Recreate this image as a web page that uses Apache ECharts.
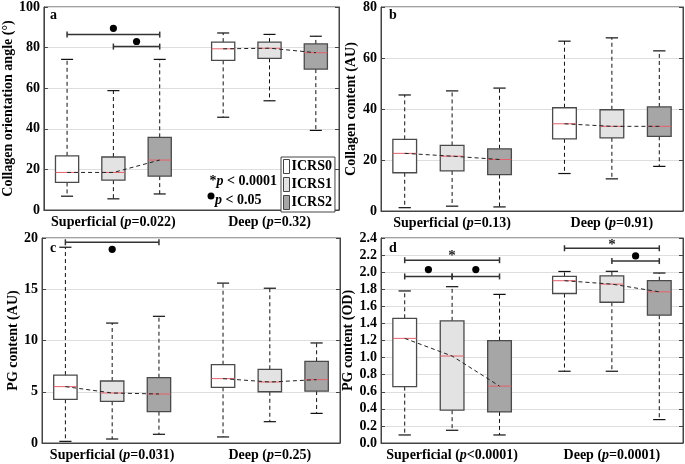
<!DOCTYPE html>
<html>
<head>
<meta charset="utf-8">
</head>
<body style="margin: 0">
<div id="main" style="width: 685px; height: 464px"></div>
<script src="https://cdn.jsdelivr.net/npm/echarts@6/dist/echarts.min.js"></script>
<script>
var groupNames = ['ICRS0', 'ICRS1', 'ICRS2'];
var zoneNames = ['Superficial', 'Deep'];

// each row: [min, q1, median, q3, max]; order Sup ICRS0..2 then Deep ICRS0..2
var angleBoxes = [
    [6.8, 13.6, 18.5, 26.7, 74.2],
    [5.5, 14.7, 18.5, 26.1, 58.8],
    [7.9, 16.7, 24.6, 35.8, 74.2],
    [45.7, 73.7, 79.4, 82.7, 87.2],
    [53.8, 74.7, 79.7, 82.7, 86.5],
    [39.2, 69.4, 77.5, 81.8, 85.6]
];
var collagenBoxes = [
    [1.3, 15.0, 22.6, 28.1, 45.5],
    [1.9, 15.7, 21.5, 25.7, 47.1],
    [1.6, 14.3, 20.2, 24.4, 48.2],
    [14.7, 28.3, 34.2, 40.5, 66.6],
    [12.6, 28.7, 33.2, 39.7, 67.9],
    [17.5, 29.3, 33.2, 40.8, 62.8]
];
var pgBoxes = [
    [0.16, 4.26, 5.5, 6.63, 19.1],
    [0.39, 4.07, 4.88, 6.05, 11.7],
    [0.85, 3.06, 4.78, 6.37, 12.36],
    [0.59, 5.43, 6.28, 7.64, 15.6],
    [2.08, 5.0, 5.95, 7.19, 15.1],
    [2.89, 5.07, 6.18, 7.97, 9.76]
];
var odBoxes = [
    [0.094, 0.66, 1.225, 1.46, 1.78],
    [0.149, 0.384, 1.018, 1.43, 1.83],
    [0.094, 0.364, 0.666, 1.198, 1.74],
    [0.84, 1.75, 1.90, 1.95, 2.008],
    [0.84, 1.648, 1.86, 1.957, 2.01],
    [0.274, 1.496, 1.77, 1.90, 1.99]
];

// significance brackets: [from box, to box, bar value, marker value, marker]
var angleSig = [[0, 2, 86.4, 89.5, 'dot'], [1, 2, 80.5, 83.0, 'dot']];
var collagenSig = [];
var pgSig = [[0, 2, 19.58, 18.9, 'dot']];
var odSig = [
    [0, 2, 2.14, 2.22, 'star'], [0, 1, 1.95, 2.03, 'dot'], [1, 2, 1.95, 2.03, 'dot'],
    [3, 5, 2.28, 2.35, 'star'], [4, 5, 2.13, 2.19, 'dot']
];

var angleP = ['=0.022', '=0.32'];
var collagenP = ['=0.13', '=0.91'];
var pgP = ['=0.031', '=0.25'];
var odP = ['<0.0001', '=0.0001'];

var serif = 'Liberation Serif';
var fills = ['#ffffff', '#e3e3e3', '#a6a6a6'];
var pos = [1, 2, 3, 4.37, 5.37, 6.37];
var zonePos = [2, 5.37];

var panels = [
    { tag: 'a', boxes: angleBoxes, sig: angleSig, p: angleP, name: 'Collagen orientation angle (°)',
      max: 100, step: 20, dec: 0, left: 42, top: 5, width: 297, height: 205, gap: 21 },
    { tag: 'b', boxes: collagenBoxes, sig: collagenSig, p: collagenP, name: 'Collagen content (AU)',
      max: 80, step: 20, dec: 0, left: 381, top: 5, width: 302, height: 206, gap: 23 },
    { tag: 'c', boxes: pgBoxes, sig: pgSig, p: pgP, name: 'PG content (AU)',
      max: 20, step: 5, dec: 0, left: 42, top: 238, width: 298, height: 205, gap: 17 },
    { tag: 'd', boxes: odBoxes, sig: odSig, p: odP, name: 'PG content (OD)',
      max: 2.4, step: 0.2, dec: 1, left: 381, top: 238, width: 302, height: 205, gap: 23 }
];

function renderBox(params, api) {
    var x = api.value(0);
    var pMin = api.coord([x, api.value(1)]);
    var pQ1 = api.coord([x, api.value(2)]);
    var pMed = api.coord([x, api.value(3)]);
    var pQ3 = api.coord([x, api.value(4)]);
    var pMax = api.coord([x, api.value(5)]);
    var bw = api.size([0.5, 0])[0];
    var cw = api.size([0.26, 0])[0];
    var cx = pMed[0];
    var dash = { stroke: '#111', lineWidth: 1, lineDash: [4, 3] };
    var solid = { stroke: '#111', lineWidth: 1.2 };
    return {
        type: 'group',
        children: [
            { type: 'line', shape: { x1: cx, y1: pQ3[1], x2: cx, y2: pMax[1] }, style: dash },
            { type: 'line', shape: { x1: cx, y1: pQ1[1], x2: cx, y2: pMin[1] }, style: dash },
            { type: 'line', shape: { x1: cx - cw / 2, y1: pMax[1], x2: cx + cw / 2, y2: pMax[1] }, style: solid },
            { type: 'line', shape: { x1: cx - cw / 2, y1: pMin[1], x2: cx + cw / 2, y2: pMin[1] }, style: solid },
            { type: 'rect', shape: { x: cx - bw / 2, y: pQ3[1], width: bw, height: pQ1[1] - pQ3[1] },
              style: { fill: api.visual('color'), stroke: '#4a4a4a', lineWidth: 1.3 } },
            { type: 'line', shape: { x1: cx - bw / 2, y1: pMed[1], x2: cx + bw / 2, y2: pMed[1] },
              style: { stroke: '#e5606b', lineWidth: 1 } }
        ]
    };
}

function renderSig(params, api) {
    var a = api.coord([api.value(0), api.value(2)]);
    var b = api.coord([api.value(1), api.value(2)]);
    var m = api.coord([(api.value(0) + api.value(1)) / 2, api.value(3)]);
    var st = { stroke: '#333', lineWidth: 1.5 };
    var kids = [
        { type: 'line', shape: { x1: a[0], y1: a[1], x2: b[0], y2: b[1] }, style: st },
        { type: 'line', shape: { x1: a[0], y1: a[1] - 3, x2: a[0], y2: a[1] + 3 }, style: st },
        { type: 'line', shape: { x1: b[0], y1: b[1] - 3, x2: b[0], y2: b[1] + 3 }, style: st }
    ];
    if (api.value(4) === 1) {
        kids.push({ type: 'text', x: m[0], y: m[1] + 3,
            style: { text: '*', fill: '#222', font: 'bold 15px ' + serif, align: 'center', verticalAlign: 'middle' } });
    } else {
        kids.push({ type: 'circle', shape: { cx: m[0], cy: m[1], r: 3.6 }, style: { fill: '#000' } });
    }
    return { type: 'group', children: kids };
}

var grids = [], xAxes = [], yAxes = [], series = [], graphics = [];

panels.forEach(function (pn, k) {
    grids.push({ left: pn.left, top: pn.top, width: pn.width, height: pn.height,
        show: true, borderColor: '#444', borderWidth: 1, backgroundColor: 'transparent' });
    xAxes.push({
        gridIndex: k, type: 'value', min: 0.5, max: 6.87,
        axisLine: { lineStyle: { color: '#444' } },
        axisTick: { show: false },
        splitLine: { show: false },
        axisLabel: {
            customValues: zonePos, margin: 5,
            formatter: function (v) {
                var z = v < 3.5 ? 0 : 1;
                return '{b|' + zoneNames[z] + ' (}{i|p}{b|' + pn.p[z] + ')}';
            },
            rich: {
                b: { fontFamily: serif, fontWeight: 'bold', fontSize: 14, color: '#000' },
                i: { fontFamily: serif, fontWeight: 'bold', fontStyle: 'italic', fontSize: 14, color: '#000' }
            }
        }
    });
    yAxes.push({
        gridIndex: k, type: 'value', min: 0, max: pn.max, interval: pn.step,
        name: pn.name, nameLocation: 'middle', nameGap: pn.gap,
        nameTextStyle: { fontFamily: serif, fontWeight: 'bold', fontSize: 14, color: '#000' },
        axisLine: { show: true, lineStyle: { color: '#444' } },
        axisTick: { show: true, inside: true, length: 4, lineStyle: { color: '#444' } },
        splitLine: { show: true, lineStyle: { color: '#dedede' } },
        axisLabel: {
            margin: 4, fontFamily: serif, fontWeight: 'bold', fontSize: 14, color: '#000',
            formatter: function (v) { return v.toFixed(pn.dec); }
        }
    });
    yAxes.push({
        gridIndex: k, type: 'value', position: 'right', min: 0, max: pn.max, interval: pn.step,
        axisLine: { show: true, lineStyle: { color: '#444' } },
        axisTick: { show: true, inside: true, length: 4, lineStyle: { color: '#444' } },
        axisLabel: { show: false },
        splitLine: { show: false }
    });

    groupNames.forEach(function (g, gi) {
        var data = [];
        [gi, gi + 3].forEach(function (bi) {
            data.push([pos[bi]].concat(pn.boxes[bi]));
        });
        series.push({
            name: g, type: 'custom', xAxisIndex: k, yAxisIndex: 2 * k,
            itemStyle: { color: fills[gi] },
            renderItem: renderBox, data: data, silent: true
        });
    });

    [0, 3].forEach(function (start) {
        var pts = [];
        for (var i = start; i < start + 3; i++) pts.push([pos[i], pn.boxes[i][2]]);
        series.push({
            type: 'line', xAxisIndex: k, yAxisIndex: 2 * k, data: pts, symbol: 'none', silent: true,
            lineStyle: { color: '#222', width: 1, type: [4, 3] }, z: 3
        });
    });

    if (pn.sig.length) {
        series.push({
            type: 'custom', xAxisIndex: k, yAxisIndex: 2 * k, silent: true, z: 4,
            renderItem: renderSig,
            data: pn.sig.map(function (s) {
                return [pos[s[0]], pos[s[1]], s[2], s[3], s[4] === 'star' ? 1 : 0];
            })
        });
    }

    graphics.push({ type: 'text', left: pn.left + 8, top: pn.top + 3,
        style: { text: pn.tag, font: 'bold 14px ' + serif, fill: '#000' } });
});

graphics.push({ type: 'text', x: 277, y: 181,
    style: { text: '{b|*}{i|p}{b| < 0.0001}', align: 'right', verticalAlign: 'middle',
        rich: { b: { font: 'bold 14px ' + serif, fill: '#000' }, i: { font: 'italic bold 14px ' + serif, fill: '#000' } } } });
graphics.push({ type: 'circle', shape: { cx: 211, cy: 196, r: 3.5 }, style: { fill: '#000' } });
graphics.push({ type: 'text', x: 215, y: 200,
    style: { text: '{i|p}{b| < 0.05}', align: 'left', verticalAlign: 'middle',
        rich: { b: { font: 'bold 14px ' + serif, fill: '#000' }, i: { font: 'italic bold 14px ' + serif, fill: '#000' } } } });

var chart = echarts.init(document.getElementById('main'));
chart.setOption({
    animation: false,
    backgroundColor: '#fff',
    grid: grids,
    xAxis: xAxes,
    yAxis: yAxes,
    legend: {
        left: 281, top: 157, orient: 'vertical', selectedMode: false,
        padding: [2, 3, 2, 2], itemGap: 3, itemWidth: 6, itemHeight: 14,
        borderColor: '#444', borderWidth: 1, backgroundColor: '#fff',
        textStyle: { fontFamily: serif, fontWeight: 'bold', fontSize: 14, color: '#000', padding: [0, 0, 0, -3] },
        data: groupNames.map(function (g, gi) {
            return { name: g, icon: 'rect', itemStyle: { color: fills[gi], borderColor: '#444', borderWidth: 1 } };
        })
    },
    series: series,
    graphic: graphics
});
</script>
</body>
</html>
